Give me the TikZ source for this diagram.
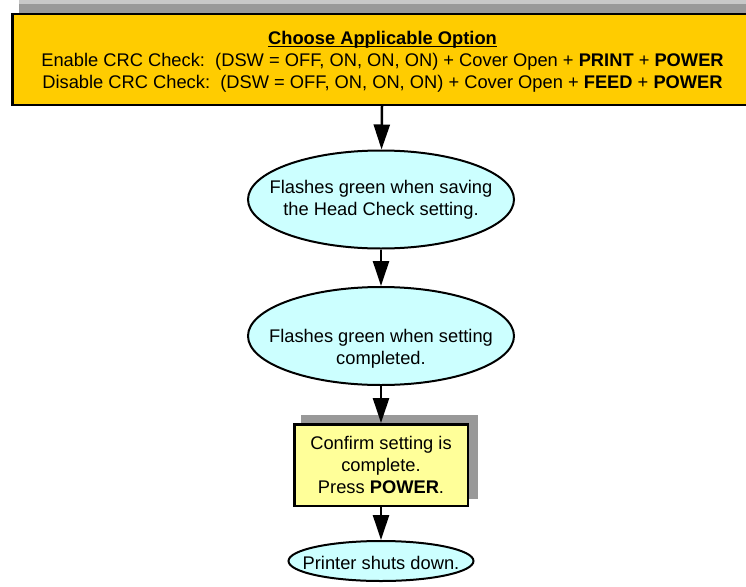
\documentclass[tikz,border=0pt]{standalone}
\usepackage{fontspec}
\setmainfont{Liberation Sans}
\usetikzlibrary{arrows.meta,shapes.geometric}
\definecolor{optgold}{HTML}{FFCC00}
\definecolor{stepcyan}{HTML}{CCFFFF}
\definecolor{noteyel}{HTML}{FFFF99}
\definecolor{shade}{HTML}{999999}
\definecolor{shadelt}{HTML}{C8C8C8}
\newcommand\ulbold[1]{\setbox0\hbox{\textbf{#1}}\rlap{\rule[-2pt]{\wd0}{1.3pt}}\box0}
\tikzset{
  bx/.style={draw=black, align=center, inner sep=0pt, font=\fontsize{18.3}{22}\selectfont},
  opt/.style={bx, fill=optgold, line width=2.5pt, minimum width=740pt, minimum height=90.5pt},
  oval/.style={bx, ellipse, fill=stepcyan, line width=2pt},
  note/.style={bx, fill=noteyel, line width=2.5pt, minimum width=173.5pt, minimum height=81.5pt},
  txt/.style={align=center, inner sep=0pt, font=\fontsize{18.3}{22}\selectfont},
  shd/.style={fill=shade},
  arr/.style={-{Triangle[length=25pt, width=16pt]}, line width=2.5pt},
}
\begin{document}
\begin{tikzpicture}[x=1pt,y=-1pt]
  \useasboundingbox (0,0) rectangle (746,586);
  \clip (0,0) rectangle (746,586);
  \fill[shadelt] (19,0) rectangle (770,4);
  \fill[shd] (19,4) rectangle (770,97);
  \fill[shd] (301,415) rectangle (478,499);
  \node[opt] (option) at (382.5,59.5)
    {\rule{0pt}{18.5pt}\ulbold{Choose Applicable Option}\\
     Enable CRC Check:\ \ (DSW = OFF, ON, ON, ON) + Cover Open + \textbf{PRINT} + \textbf{POWER}\\
     Disable CRC Check:\ \ (DSW = OFF, ON, ON, ON) + Cover Open + \textbf{FEED} + \textbf{POWER}};
  \node[oval, minimum width=266pt, minimum height=98pt,
    label={[txt, yshift=0pt]center:{Flashes green when saving\\the Head Check setting.}}] (saving) at (381,199.5) {};
  \node[oval, minimum width=266pt, minimum height=98pt,
    label={[txt, yshift=-12.5pt]center:{Flashes green when setting\\completed.}}] (done) at (381,336) {};
  \node[note] (confirm) at (381,465) {Confirm setting is\\complete.\\Press \textbf{POWER}.};
  \node[oval, minimum width=185pt, minimum height=40pt,
    label={[txt, yshift=-2pt]center:{Printer shuts down.}}] (off) at (381,561) {};
  \draw[arr] (option) -- (saving);
  \draw[arr] (saving) -- (done);
  \draw[arr] (done) -- (confirm);
  \draw[arr] (confirm) -- (off);
\end{tikzpicture}
\end{document}
